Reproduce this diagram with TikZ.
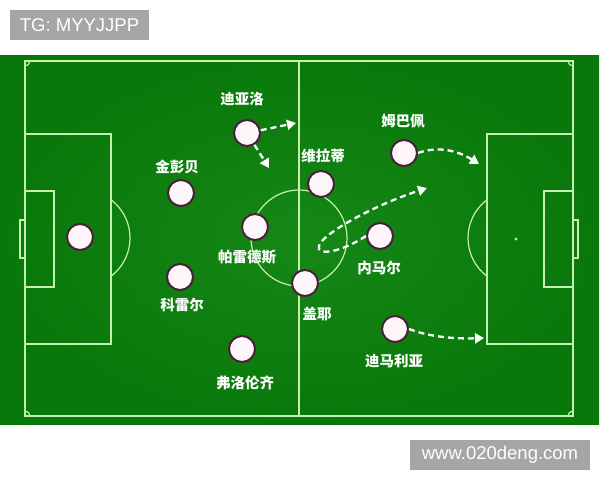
\documentclass[tikz,border=0pt]{standalone}
\usepackage{fontspec}
\setmainfont{Liberation Sans}
\newfontfamily\cjk{Noto Sans CJK SC}
\usetikzlibrary{arrows.meta}
\definecolor{grass}{RGB}{8,120,10}
\definecolor{grassin}{RGB}{22,136,22}
\definecolor{chalk}{RGB}{196,240,176}
\definecolor{pfill}{RGB}{253,246,251}
\definecolor{pedge}{RGB}{75,31,59}
\definecolor{tagbg}{RGB}{166,166,166}
\tikzset{
  chalkline/.style={draw=chalk, line width=1.2pt},
  player/.style={circle, minimum size=26pt, inner sep=0pt, fill=pfill, draw=pedge, line width=2pt},
  pname/.style={text=white, font=\cjk\bfseries\fontsize{14.5}{14.5}\selectfont, inner sep=0pt},
  run/.style={draw=white, line width=2.3pt, dash pattern=on 6pt off 4pt, -{Triangle[length=9pt,width=10pt]}},
  tag/.style={fill=tagbg, text=white, font=\fontsize{18.5}{18.5}\selectfont, inner sep=0pt, minimum height=30pt, anchor=center}
}
\begin{document}
\begin{tikzpicture}[x=1pt,y=-1pt]
\useasboundingbox (0,0) rectangle (600,480);
\fill[white] (0,0) rectangle (600,480);
% field
\shade[inner color=grassin, outer color=grass] (0,55) rectangle (599,424);
% lines
\draw[chalkline] (25,61) rectangle (573,416);
\draw[chalkline] (299,61) -- (299,416);
\draw[chalkline] (299,238) circle (48);
\fill[chalk] (299,238) circle (1.2);
% left side
\draw[chalkline] (25,134) rectangle (111,344);
\draw[chalkline] (25,191) rectangle (54,287);
\draw[chalkline] (20,220) rectangle (25,258);
\begin{scope}
\clip (111,150) rectangle (200,330);
\draw[chalkline] (82,238) circle (48);
\end{scope}
% right side
\draw[chalkline] (487,134) rectangle (573,344);
\draw[chalkline] (544,191) rectangle (573,287);
\draw[chalkline] (573,220) rectangle (578,258);
\begin{scope}
\clip (400,150) rectangle (487,330);
\draw[chalkline] (516,238) circle (48);
\end{scope}
\fill[chalk] (516,239) circle (1.6);
% corner arcs
\begin{scope}
\clip (25,61) rectangle (573,416);
\draw[chalkline] (25,61) circle (5);
\draw[chalkline] (573,61) circle (5);
\draw[chalkline] (25,416) circle (5);
\draw[chalkline] (573,416) circle (5);
\end{scope}
% tags
\node[tag, minimum width=139pt] (tg) at (79.5,25) {TG: MYYJJPP};
\node[tag, minimum width=180pt] (web) at (500,455) {www.020deng.com};
% players
\node[player] (gk) at (80,237) {};
\node[player] (dia) at (247,133) {};
\node[player] (kim) at (181,193) {};
\node[player] (par) at (255,227) {};
\node[player] (keh) at (180,277) {};
\node[player] (flo) at (242,349) {};
\node[player] (ver) at (321,184) {};
\node[player] (mba) at (404,153) {};
\node[player] (ney) at (380,236) {};
\node[player] (gue) at (305,283) {};
\node[player] (dim) at (395,329) {};
% names
\node[pname] (ldia) at (242,99) {迪亚洛};
\node[pname] (lkim) at (177,167) {金彭贝};
\node[pname] (lpar) at (247,257) {帕雷德斯};
\node[pname] (lkeh) at (182,305) {科雷尔};
\node[pname] (lflo) at (245,383) {弗洛伦齐};
\node[pname] (lver) at (323,156) {维拉蒂};
\node[pname] (lmba) at (403,121) {姆巴佩};
\node[pname] (lney) at (379,268) {内马尔};
\node[pname] (lgue) at (317,314) {盖耶};
\node[pname] (ldim) at (394,361) {迪马利亚};
% runs
\coordinate (dia1) at (296,123);
\coordinate (dia2) at (269,168);
\coordinate (mba1) at (479,164);
\coordinate (ney1) at (427,188);
\coordinate (dim1) at (484,338);
\draw[run] (dia) -- (dia1);
\draw[run] (dia) -- (dia2);
\draw[run] (mba.east) .. controls (440,145) and (460,152) .. (mba1);
\draw[run] (ney.west) .. controls (340,253) and (316,256) .. (319,246) .. controls (322,234) and (372,206) .. (ney1);
\draw[run] (dim.east) .. controls (430,337) and (455,339) .. (dim1);
\end{tikzpicture}
\end{document}
